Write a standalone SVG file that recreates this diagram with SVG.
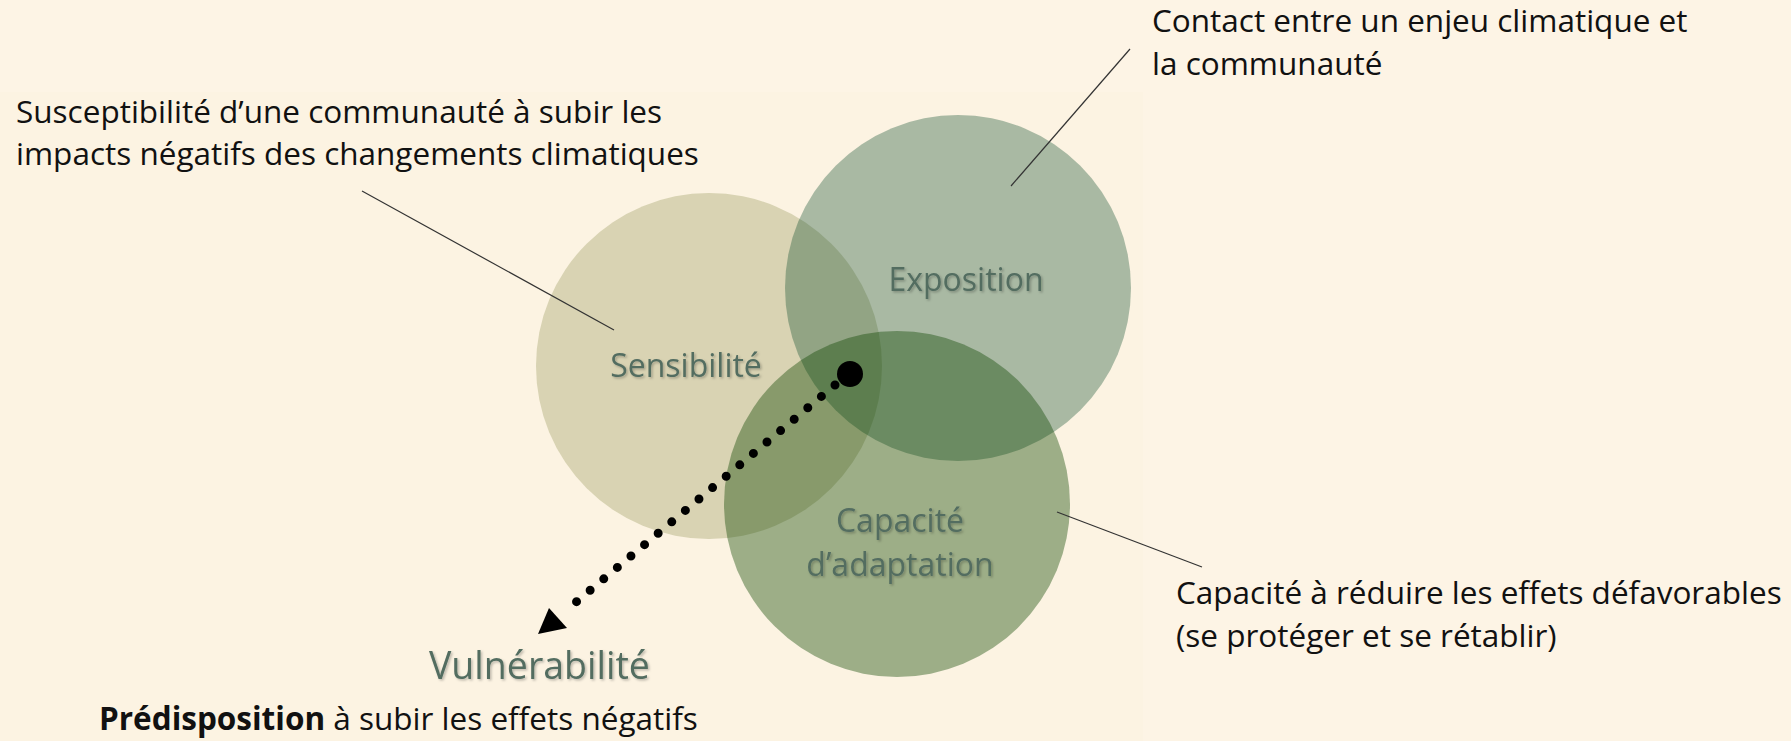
<svg xmlns="http://www.w3.org/2000/svg" width="1791" height="741" viewBox="0 0 1791 741">
  <defs>
    <style>
      .note { font-family: "Open Sans", "Liberation Sans", sans-serif; font-size: 31.5px; fill: #111; }
      .label { font-family: "Open Sans", "Liberation Sans", sans-serif; font-size: 32px; fill: #536d61; text-anchor: middle; filter: url(#shadow); }
      .leader { stroke: #333; stroke-width: 1.2; fill: none; }
    </style>
    <filter id="shadow" x="-10%" y="-20%" width="130%" height="150%">
      <feDropShadow dx="1.5" dy="1.5" stdDeviation="1.3" flood-color="#000" flood-opacity="0.25"/>
    </filter>
  </defs>

  <rect x="0" y="0" width="1791" height="741" fill="#fdf4e5"/>
  <rect x="0" y="92" width="1143" height="649" fill="#fcf3e2"/>

  <g id="sensibilite">
    <circle cx="709" cy="366" r="173" fill="#b5b383" fill-opacity="0.5"/>
  </g>
  <g id="exposition">
    <circle cx="958" cy="288" r="173" fill="#0d4d2f" fill-opacity="0.35"/>
  </g>
  <g id="capacite">
    <circle cx="897" cy="504" r="173" fill="#0f4600" fill-opacity="0.4"/>
  </g>

  <g id="labels">
    <text class="label" x="686" y="377">Sensibilité</text>
    <text class="label" x="966" y="291">Exposition</text>
    <text class="label" x="900" y="532">Capacité</text>
    <text class="label" x="900" y="576">d’adaptation</text>
  </g>

  <g id="connectors">
    <line class="leader" x1="362" y1="191" x2="614" y2="330"/>
    <line class="leader" x1="1130" y1="49" x2="1011" y2="186"/>
    <line class="leader" x1="1057" y1="512" x2="1202" y2="567"/>
    <line x1="835" y1="385" x2="563" y2="613" stroke="#000" stroke-width="9" stroke-linecap="round" stroke-dasharray="0 17.75"/>
    <circle cx="850" cy="374" r="13" fill="#000"/>
    <polygon points="538,634 549,608 567,628" fill="#000"/>
  </g>

  <g id="note-sensibilite">
    <text class="note" x="16" y="123">Susceptibilité d’une communauté à subir les</text>
    <text class="note" x="16" y="165">impacts négatifs des changements climatiques</text>
  </g>
  <g id="note-exposition">
    <text class="note" x="1152" y="32">Contact entre un enjeu climatique et</text>
    <text class="note" x="1152" y="75">la communauté</text>
  </g>
  <g id="note-capacite">
    <text class="note" x="1176" y="604">Capacité à réduire les effets défavorables</text>
    <text class="note" x="1176" y="647">(se protéger et se rétablir)</text>
  </g>
  <g id="vulnerabilite">
    <text x="429" y="679" font-family="'Open Sans', 'Liberation Sans', sans-serif" font-size="37.5" fill="#536d61" filter="url(#shadow)">Vulnérabilité</text>
    <text class="note" x="99" y="730"><tspan font-weight="bold">Prédisposition</tspan> à subir les effets négatifs</text>
  </g>
</svg>
